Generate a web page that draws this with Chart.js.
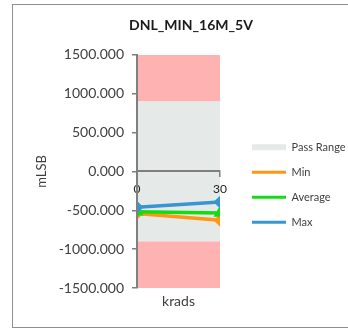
<!DOCTYPE html>
<html>
<head>
<meta charset="utf-8">
<script src="https://cdn.jsdelivr.net/npm/chart.js@4/dist/chart.umd.min.js"></script>
<style>
  body { margin: 0; background: #fff; overflow: hidden; width: 348px; height: 330px; }
  .box { position: absolute; left: 12px; top: 4px; width: 345px; height: 322px; border: 1px solid #8f8f8f; background: #fff; }
</style>
</head>
<body>
<div class="box"><canvas id="dnl-chart"></canvas></div>
<script>
const krads = [0, 30];
const minVals = [-540, -630];
const avgVals = [-520, -535];
const maxVals = [-460, -395];
const passLow = -900;
const passHigh = 900;
const yMin = -1500;
const yMax = 1500;

const passColor = 'rgb(229, 233, 232)';
const failColor = 'rgb(255, 178, 178)';
const axisColor = '#7f7f7f';
const textColor = '#404040';

const pts = (vals) => krads.map((x, i) => ({x: x, y: vals[i]}));
const flat = (v) => krads.map(x => ({x: x, y: v}));

const band = (label, top, bottom, color) => ({
  label: label,
  data: flat(top),
  fill: {value: bottom},
  backgroundColor: color,
  borderWidth: 0,
  pointRadius: 0,
  order: 10
});

const series = (label, vals, color, marker, order) => ({
  label: label,
  data: pts(vals),
  borderColor: color,
  backgroundColor: color,
  borderWidth: 3.5,
  pointStyle: marker,
  pointRadius: 4,
  fill: false,
  order: order
});

const datasets = [
  band('Pass Range', passHigh, passLow, passColor),
  band('', yMax, passHigh, failColor),
  band('', passLow, yMin, failColor),
  series('Min', minVals, 'rgb(255, 150, 20)', 'rectRot', 3),
  series('Average', avgVals, 'rgb(20, 220, 20)', 'triangle', 2),
  series('Max', maxVals, 'rgb(55, 150, 210)', 'rectRot', 1)
];

Chart.defaults.font.family = 'Lato, "Open Sans", sans-serif';
Chart.defaults.color = textColor;

const config = {
  type: 'line',
  data: {datasets: datasets},
  options: {
    responsive: true,
    maintainAspectRatio: false,
    animation: false,
    events: [],
    layout: {padding: {left: 21, right: 10, top: 0, bottom: 0}},
    scales: {
      x: {
        type: 'linear',
        min: 0,
        max: 30,
        position: {y: 0},
        ticks: {stepSize: 30, padding: 6, color: '#222', font: {size: 12}, z: 1},
        grid: {drawOnChartArea: false, tickLength: 5, color: axisColor, lineWidth: 1.5, z: 1},
        border: {color: axisColor, width: 2, z: 1}
      },
      x2: {
        type: 'linear',
        position: 'bottom',
        min: 0,
        max: 30,
        ticks: {display: false},
        grid: {display: false},
        border: {display: false},
        title: {display: true, text: 'krads', color: textColor, font: {size: 14}, padding: {top: 0, bottom: 17}},
        afterFit: (s) => { s.height = 39; }
      },
      y: {
        min: yMin,
        max: yMax,
        ticks: {stepSize: 500, padding: 8, font: {size: 14}, callback: (v) => v.toFixed(3)},
        grid: {drawOnChartArea: false, tickLength: 5, color: axisColor, lineWidth: 1.5},
        border: {color: axisColor, width: 2, z: 1},
        title: {display: true, text: 'mLSB', color: textColor, font: {size: 13}, padding: 0},
        afterFit: (s) => { s.width = 103; }
      },
      y2: {
        position: 'right',
        display: true,
        ticks: {display: false},
        grid: {display: false},
        border: {display: false},
        afterFit: (s) => { s.width = 18; }
      }
    },
    plugins: {
      title: {
        display: true,
        text: 'DNL_MIN_16M_5V',
        color: '#1a1a1a',
        font: {size: 14, weight: 'bold'},
        padding: {top: 12, bottom: 21}
      },
      legend: {
        position: 'right',
        maxWidth: 110,
        title: {display: true, text: '', padding: {top: 23, bottom: 0}},
        labels: {
          usePointStyle: true,
          pointStyleWidth: 34,
          boxHeight: 6,
          padding: 14,
          color: textColor,
          font: {size: 11},
          generateLabels: (chart) => chart.data.datasets
            .map((ds, i) => ({ds: ds, i: i}))
            .filter(d => d.ds.label)
            .map(d => ({
              text: d.ds.label,
              datasetIndex: d.i,
              fillStyle: d.ds.backgroundColor,
              strokeStyle: d.ds.order === 10 ? d.ds.backgroundColor : d.ds.borderColor,
              lineWidth: d.ds.order === 10 ? 0 : 3,
              pointStyle: d.ds.order === 10 ? 'rect' : 'line',
              hidden: false
            }))
        }
      },
      tooltip: {enabled: false}
    }
  }
};

const dnlChart = new Chart(document.getElementById('dnl-chart'), config);
</script>
</body>
</html>
